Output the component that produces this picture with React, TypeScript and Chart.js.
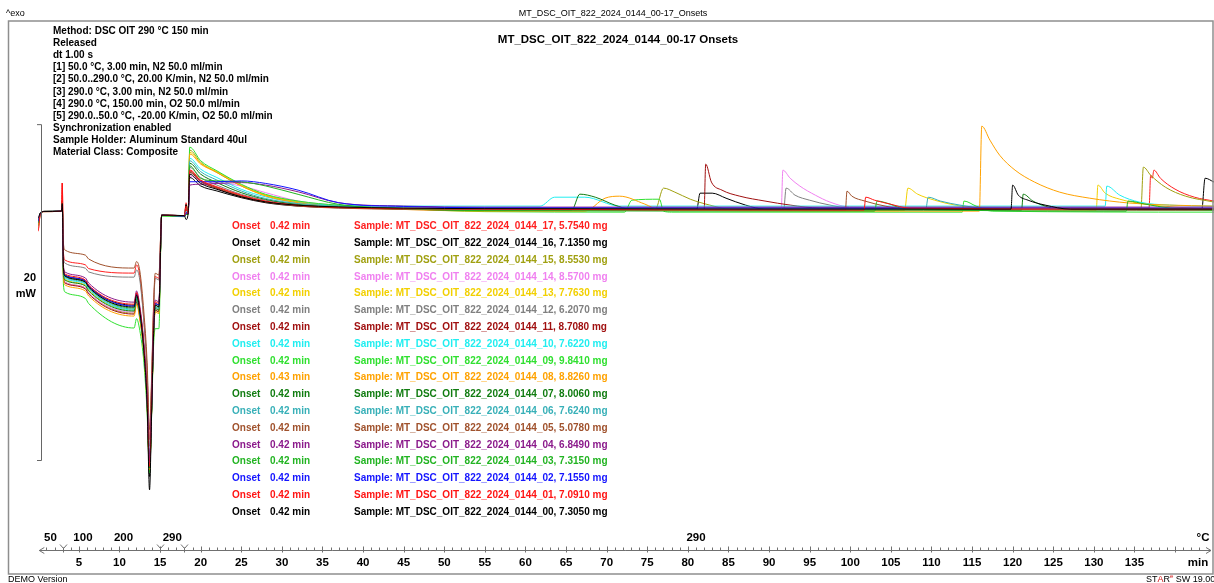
import React, { useEffect, useRef } from "react";
import { Chart, registerables } from "chart.js";

Chart.register(...registerables);

// ---------- DATA ----------
// common time grid (min) for the N2 part and the start of the O2 isotherm
const TIME_PRE = [0, 0.25, 0.7, 2.85, 2.95, 3.1, 3.3, 5.8, 6.2, 11.8, 12.1, 12.5, 13.0, 13.4, 13.7, 13.95, 14.2, 14.4, 14.85, 15.2, 18.0, 18.2, 18.45, 18.65, 20, 22, 25, 28, 32, 37, 45, 55];

// heat flow (mW) on TIME_PRE, per sample
const S00_PRE = [-0.4, -0.12, -0.02, 0.0, 0.45, -3.45, -3.87, -4.22, -4.52, -5.71, -5.0, -5.95, -8.3, -11.5, -16.6, -12.2, -7.3, -5.6, -5.7, -0.24, -0.27, -0.5, -0.15, 2.2, 1.65, 1.3, 0.85, 0.55, 0.35, 0.25, 0.18, 0.15];
const S01_PRE = [-1.15, -0.2, -0.03, 0.0, 1.67, -3.35, -3.75, -4.1, -4.4, -5.54, -4.85, -5.8, -8.0, -11.0, -15.2, -11.6, -7.0, -5.4, -5.5, -0.24, -0.27, 0.3, -0.15, 2.45, 1.85, 1.45, 0.95, 0.6, 0.35, 0.22, 0.15, 0.12];
const S02_PRE = [-0.6, -0.15, -0.02, 0.0, 0.36, -3.4, -3.81, -4.15, -4.45, -5.65, -4.95, -5.9, -8.1, -11.2, -15.0, -11.8, -7.1, -5.5, -5.6, -0.24, -0.3, -0.1, -0.15, 1.75, 1.75, 1.75, 1.8, 1.65, 1.25, 0.5, 0.28, 0.2];
const S03_PRE = [-0.7, -0.15, -0.02, 0.0, 0.5, -3.45, -3.87, -4.22, -4.52, -5.77, -5.1, -6.0, -8.2, -11.3, -15.3, -11.9, -7.2, -5.6, -5.7, -0.24, -0.3, -0.2, -0.18, 2.7, 1.95, 1.8, 1.75, 1.5, 1.0, 0.4, 0.15, 0.03];
const S04_PRE = [-0.6, -0.15, -0.02, 0.0, 0.4, -3.25, -3.63, -3.98, -4.28, -5.42, -4.75, -5.65, -7.8, -10.8, -14.8, -11.4, -6.8, -5.3, -5.4, -0.24, -0.27, -0.1, -0.15, 1.55, 1.6, 1.65, 1.7, 1.55, 1.15, 0.5, 0.3, 0.24];
const S05_PRE = [-0.5, -0.12, -0.02, 0.0, 0.55, -1.95, -2.32, -2.62, -2.85, -3.39, -3.0, -3.55, -6.0, -9.0, -13.0, -10.0, -5.5, -3.7, -3.8, -0.24, -0.27, -0.2, -0.15, 2.35, 1.8, 1.4, 0.9, 0.55, 0.3, 0.18, 0.1, 0.06];
const S06_PRE = [-0.7, -0.15, -0.02, 0.0, 0.45, -3.5, -3.93, -4.28, -4.58, -5.83, -5.15, -6.05, -8.2, -11.2, -15.1, -11.8, -7.2, -5.7, -5.8, -0.24, -0.3, -0.1, -0.15, 3.0, 2.35, 1.85, 1.2, 0.75, 0.45, 0.3, 0.2, 0.12];
const S07_PRE = [-0.7, -0.15, -0.02, 0.0, 0.45, -3.7, -4.11, -4.45, -4.75, -5.95, -5.25, -6.15, -8.3, -11.3, -15.3, -11.9, -7.3, -5.8, -5.9, -0.24, -0.3, -0.2, -0.15, 2.85, 2.2, 1.7, 1.1, 0.7, 0.4, 0.25, 0.12, 0.06];
const S08_PRE = [-0.8, -0.15, -0.02, 0.0, 0.4, -4.0, -4.4, -4.75, -5.05, -6.25, -5.55, -6.45, -8.5, -11.5, -15.4, -12.0, -7.5, -6.0, -6.1, -0.24, -0.3, -0.1, -0.18, 3.4, 2.8, 2.3, 1.5, 0.9, 0.5, 0.25, 0.1, 0.0];
const S09_PRE = [-0.9, -0.2, -0.03, 0.0, 0.4, -4.4, -4.82, -5.2, -5.5, -6.96, -6.4, -7.1, -9.0, -12.0, -15.6, -12.2, -8.0, -7.0, -7.0, -0.3, -0.33, -0.2, -0.2, 3.81, 3.0, 2.4, 1.6, 1.0, 0.6, 0.35, 0.15, -0.03];
const S10_PRE = [-0.7, -0.15, -0.02, 0.0, 0.45, -3.55, -3.99, -4.33, -4.63, -5.89, -5.2, -6.1, -8.2, -11.2, -15.0, -11.7, -7.2, -5.7, -5.8, -0.24, -0.3, 0.0, -0.15, 3.15, 2.5, 2.0, 1.3, 0.85, 0.5, 0.35, 0.3, 0.3];
const S11_PRE = [-0.8, -0.15, -0.02, 0.0, 0.6, -3.9, -4.29, -4.63, -4.93, -6.13, -5.4, -6.35, -8.4, -11.4, -15.3, -12.0, -7.4, -5.9, -6.0, -0.24, -0.3, 0.1, -0.15, 2.3, 1.75, 1.35, 0.85, 0.55, 0.35, 0.22, 0.15, 0.12];
const S12_PRE = [-0.6, -0.15, -0.02, 0.0, 0.4, -2.7, -3.1, -3.4, -3.62, -3.93, -3.5, -4.1, -6.6, -9.6, -14.0, -10.5, -6.0, -4.0, -4.1, -0.24, -0.27, -0.1, -0.15, 2.6, 2.0, 1.55, 1.0, 0.65, 0.4, 0.25, 0.15, 0.12];
const S13_PRE = [-0.7, -0.15, -0.02, 0.0, 0.45, -3.6, -4.05, -4.4, -4.7, -5.89, -5.2, -6.1, -8.2, -11.2, -15.1, -11.8, -7.2, -5.7, -5.8, -0.24, -0.3, -0.1, -0.15, 3.5, 2.85, 2.35, 1.55, 0.95, 0.55, 0.3, 0.15, 0.06];
const S14_PRE = [-0.8, -0.15, -0.02, 0.0, 0.45, -3.8, -4.23, -4.57, -4.87, -6.01, -5.3, -6.2, -8.3, -11.3, -15.2, -11.9, -7.3, -5.8, -5.9, -0.24, -0.3, -0.1, -0.15, 2.1, 1.8, 1.7, 1.5, 1.1, 0.6, 0.35, 0.2, 0.12];
const S15_PRE = [-0.8, -0.15, -0.02, 0.0, 0.45, -3.8, -4.23, -4.57, -4.87, -6.07, -5.35, -6.25, -8.3, -11.3, -15.2, -11.9, -7.4, -5.9, -6.0, -0.24, -0.3, -0.1, -0.15, 3.63, 2.9, 2.3, 1.5, 0.95, 0.55, 0.3, 0.2, 0.12];
const S16_PRE = [-0.45, -0.12, -0.02, 0.0, 0.5, -3.4, -3.81, -4.15, -4.45, -5.6, -4.9, -5.85, -8.1, -11.2, -15.8, -12.0, -7.1, -5.5, -5.6, -0.24, -0.27, 0.4, -0.15, 2.0, 1.5, 1.2, 0.8, 0.5, 0.3, 0.2, 0.15, 0.12];
const S17_PRE = [-1.2, -0.2, -0.03, 0.0, 1.67, -2.5, -2.92, -3.2, -3.42, -3.69, -3.2, -3.85, -6.5, -9.5, -13.6, -10.3, -5.8, -3.9, -4.0, -0.24, -0.27, 0.5, -0.15, 2.4, 1.8, 1.4, 0.9, 0.55, 0.35, 0.25, 0.2, 0.18];

// oxidation part: [time min, heat flow mW]
const S00_OX = [[119.8, 0.12], [120.0, 1.55], [120.7, 0.95], [121.9, 0.65], [124.0, 0.36], [127.1, 0.12], [144.8, 0.12]];
const S01_OX = [[101.7, 0.06], [101.9, 0.83], [103.0, 0.65], [104.9, 0.42], [107.3, 0.18], [144.8, 0.12]];
const S02_OX = [[144.8, 0.18]];
const S03_OX = [[103.0, 0.0], [103.3, 0.6], [104.9, 0.42], [106.7, 0.12], [134.0, 0.0], [134.2, 0.6], [136.3, 0.42], [139.4, 0.18], [144.8, 0.06]];
const S04_OX = [[144.8, 0.24]];
const S05_OX = [[99.4, 0.06], [99.6, 1.19], [100.2, 0.89], [101.8, 0.6], [104.3, 0.3], [106.7, 0.12], [144.8, 0.06]];
const S06_OX = [[109.3, 0.12], [109.6, 0.83], [111.1, 0.6], [113.5, 0.36], [116.6, 0.18], [144.8, 0.12]];
const S07_OX = [[65.7, 0.06], [66.7, 1.01], [68.6, 0.83], [71.0, 0.36], [72.9, 0.12], [121.1, 0.06], [121.3, 1.01], [122.5, 0.6], [124.0, 0.3], [125.8, 0.12], [144.8, 0.06]];
const S08_OX = [[67.3, 0.0], [69.8, 0.77], [71.6, 0.89], [74.7, 0.42], [76.6, 0.06], [115.9, 0.0], [116.2, 5.06], [117.2, 4.23], [118.4, 3.33], [120.3, 2.44], [122.7, 1.73], [125.8, 1.13], [129.5, 0.77], [134.4, 0.48], [139.3, 0.36], [144.8, 0.3]];
const S09_OX = [[72.2, -0.06], [73.1, 0.65], [76.5, 0.71], [77.0, 0.0], [78.0, -0.06], [113.8, -0.06], [114.0, 0.6], [115.5, 0.3], [117.5, 0.0], [144.8, -0.06]];
const S10_OX = [[61.8, 0.3], [63.6, 0.83], [67.3, 0.83], [71.6, 0.3], [131.4, 0.3], [131.6, 1.49], [133.2, 0.95], [135.6, 0.54], [139.3, 0.36], [144.8, 0.3]];
const S11_OX = [[82.0, 0.06], [82.2, 2.8], [82.9, 1.73], [84.2, 1.25], [86.4, 0.89], [89.5, 0.6], [92.6, 0.36], [96.3, 0.18], [144.8, 0.12]];
const S12_OX = [[91.8, 0.06], [92.1, 1.37], [93.2, 0.95], [95.0, 0.65], [97.5, 0.36], [100.0, 0.18], [144.8, 0.12]];
const S13_OX = [[106.7, 0.06], [107.1, 1.37], [108.3, 1.01], [110.4, 0.65], [112.9, 0.36], [116.0, 0.18], [130.3, 0.06], [130.5, 1.55], [131.4, 1.07], [133.2, 0.71], [136.3, 0.42], [140.0, 0.24], [144.8, 0.12]];
const S14_OX = [[91.5, 0.06], [91.7, 2.44], [92.6, 1.96], [93.8, 1.49], [95.7, 0.95], [97.5, 0.54], [100.0, 0.24], [144.8, 0.12]];
const S15_OX = [[76.0, 0.12], [77.0, 1.37], [78.4, 1.13], [80.3, 0.71], [82.7, 0.36], [85.2, 0.12], [135.8, 0.12], [136.1, 2.62], [137.0, 2.14], [138.8, 1.43], [141.3, 0.89], [144.8, 0.54]];
const S16_OX = [[81.1, 0.12], [81.5, 1.07], [83.0, 1.07], [84.7, 0.77], [87.1, 0.36], [89.5, 0.12], [143.3, 0.12], [143.7, 1.96], [144.8, 1.73]];
const S17_OX = [[136.8, 0.18], [137.0, 2.14], [137.2, 1.96], [137.4, 2.44], [138.2, 1.96], [140.0, 1.31], [142.4, 0.83], [144.8, 0.6]];

const SAMPLE_IDS = ["00", "01", "02", "03", "04", "05", "06", "07", "08", "09", "10", "11", "12", "13", "14", "15", "16", "17"];
const SAMPLE_MASS = ["7.3050", "7.0910", "7.1550", "7.3150", "6.8490", "5.0780", "7.6240", "8.0060", "8.8260", "9.8410", "7.6220", "8.7080", "6.2070", "7.7630", "8.5700", "8.5530", "7.1350", "5.7540"];
const ONSET_MIN = ["0.42", "0.42", "0.42", "0.42", "0.42", "0.42", "0.42", "0.42", "0.43", "0.42", "0.42", "0.42", "0.42", "0.42", "0.42", "0.42", "0.42", "0.42"];
const SERIES_COLORS = ["#000000", "#ff1414", "#1414ff", "#22b422", "#8b1a8b", "#a0522d", "#38b0b8", "#107c10", "#ffa200", "#30e030", "#20eef0", "#a01010", "#808080", "#f2d000", "#f080f0", "#a0a010", "#000000", "#ff2020"];

const PRE = [S00_PRE, S01_PRE, S02_PRE, S03_PRE, S04_PRE, S05_PRE, S06_PRE, S07_PRE, S08_PRE, S09_PRE, S10_PRE, S11_PRE, S12_PRE, S13_PRE, S14_PRE, S15_PRE, S16_PRE, S17_PRE];
const OX = [S00_OX, S01_OX, S02_OX, S03_OX, S04_OX, S05_OX, S06_OX, S07_OX, S08_OX, S09_OX, S10_OX, S11_OX, S12_OX, S13_OX, S14_OX, S15_OX, S16_OX, S17_OX];

const METHOD_LINES = [
  "Method: DSC OIT 290 °C 150 min",
  "Released",
  "dt 1.00 s",
  "[1] 50.0 °C, 3.00 min, N2 50.0 ml/min",
  "[2] 50.0..290.0 °C, 20.00 K/min, N2 50.0 ml/min",
  "[3] 290.0 °C, 3.00 min, N2 50.0 ml/min",
  "[4] 290.0 °C, 150.00 min, O2 50.0 ml/min",
  "[5] 290.0..50.0 °C, -20.00 K/min, O2 50.0 ml/min",
  "Synchronization enabled",
  "Sample Holder: Aluminum Standard 40ul",
  "Material Class: Composite",
];

const TIME_LABELS = [5, 10, 15, 20, 25, 30, 35, 40, 45, 50, 55, 60, 65, 70, 75, 80, 85, 90, 95, 100, 105, 110, 115, 120, 125, 130, 135];
const TEMP_LABEL_TIMES = [1.5, 5.5, 10.5, 16.5, 81];
const TEMP_LABELS = ["50", "100", "200", "290", "290"];
const SEGMENT_TIMES = [3, 15, 18];
const SCALE_BAR_FROM = -14.82;
const SCALE_BAR_MW = 20;

const FONT = '"Liberation Sans", Arial, Helvetica, sans-serif';

const decorPlugin = {
  id: "decor",
  afterDraw(chart: any) {
    const ctx = chart.ctx as CanvasRenderingContext2D;
    const xs = chart.scales.x;
    const ys = chart.scales.y;
    const px = (t: number) => xs.getPixelForValue(t);
    const py = (v: number) => ys.getPixelForValue(v);
    ctx.save();

    // frame
    ctx.strokeStyle = "#8e8e8e";
    ctx.lineWidth = 1.5;
    ctx.strokeRect(8.5, 21, 1204.5, 553);

    ctx.textBaseline = "middle";
    ctx.fillStyle = "#000";
    // header
    ctx.font = `9px ${FONT}`;
    ctx.textAlign = "left";
    ctx.fillText("^exo", 6, 14);
    ctx.textAlign = "center";
    ctx.fillText("MT_DSC_OIT_822_2024_0144_00-17_Onsets", 613, 14);

    // title
    ctx.font = `bold 11.5px ${FONT}`;
    ctx.fillText("MT_DSC_OIT_822_2024_0144_00-17 Onsets", 618, 40);

    // method block
    ctx.font = `bold 10px ${FONT}`;
    ctx.textAlign = "left";
    METHOD_LINES.forEach((line, i) => ctx.fillText(line, 53, 31 + i * 12.15));

    // scale bar
    const yTop = py(SCALE_BAR_FROM + SCALE_BAR_MW);
    const yBot = py(SCALE_BAR_FROM);
    ctx.strokeStyle = "#666";
    ctx.lineWidth = 1;
    ctx.beginPath();
    ctx.moveTo(37, yTop + 0.5);
    ctx.lineTo(41.5, yTop + 0.5);
    ctx.lineTo(41.5, yBot + 0.5);
    ctx.lineTo(37, yBot + 0.5);
    ctx.stroke();
    ctx.font = `bold 11px ${FONT}`;
    ctx.textAlign = "right";
    ctx.fillText("20", 36, 278);
    ctx.fillText("mW", 36, 294);

    // x axis
    const ay = 550.5;
    const x0 = px(0);
    ctx.strokeStyle = "#707070";
    ctx.beginPath();
    ctx.moveTo(x0 + 1, ay);
    ctx.lineTo(1211, ay);
    ctx.moveTo(x0 + 6, ay - 3);
    ctx.lineTo(x0 + 1, ay);
    ctx.lineTo(x0 + 6, ay + 3);
    ctx.moveTo(1206, ay - 3);
    ctx.lineTo(1211, ay);
    ctx.lineTo(1206, ay + 3);
    for (let m = 1; m < 145; m++) {
      const x = Math.round(px(m)) + 0.5;
      if (x > 1204) break;
      if (m % 5 === 0) {
        ctx.moveTo(x, ay - 4);
        ctx.lineTo(x, ay + 2);
      } else {
        ctx.moveTo(x, ay - 3);
        ctx.lineTo(x, ay);
      }
    }
    SEGMENT_TIMES.forEach((t) => {
      const x = Math.round(px(t)) + 0.5;
      ctx.moveTo(x - 3.5, ay - 6);
      ctx.lineTo(x, ay - 2);
      ctx.lineTo(x + 3.5, ay - 6);
      ctx.moveTo(x, ay - 2);
      ctx.lineTo(x, ay + 2);
    });
    ctx.stroke();

    ctx.fillStyle = "#000";
    ctx.font = `bold 11.5px ${FONT}`;
    ctx.textAlign = "center";
    TIME_LABELS.forEach((t) => ctx.fillText(String(t), px(t), 563));
    ctx.fillText("min", 1198, 563);
    TEMP_LABELS.forEach((lab, i) => ctx.fillText(lab, px(TEMP_LABEL_TIMES[i]), 538));
    ctx.fillText("°C", 1203, 538);

    // legend (17 .. 00)
    ctx.font = `bold 10px ${FONT}`;
    ctx.textAlign = "left";
    for (let r = 0; r < 18; r++) {
      const i = 17 - r;
      const y = 226.5 + r * 16.8;
      ctx.fillStyle = SERIES_COLORS[i];
      ctx.fillText("Onset", 232, y);
      ctx.fillText(`${ONSET_MIN[i]} min`, 270, y);
      ctx.fillText(`Sample: MT_DSC_OIT_822_2024_0144_${SAMPLE_IDS[i]}, ${SAMPLE_MASS[i]} mg`, 354, y);
    }

    // footer
    ctx.font = `9px ${FONT}`;
    ctx.fillStyle = "#000";
    ctx.fillText("DEMO Version", 8, 580);
    let fx = 1146;
    const parts: [string, string][] = [["ST", "#000"], ["A", "#d01010"], ["R", "#000"]];
    parts.forEach(([s, c]) => {
      ctx.fillStyle = c;
      ctx.fillText(s, fx, 580);
      fx += ctx.measureText(s).width;
    });
    ctx.font = `6px ${FONT}`;
    ctx.fillStyle = "#d01010";
    ctx.fillText("e", fx, 576);
    fx += ctx.measureText("e").width;
    ctx.font = `9px ${FONT}`;
    ctx.fillStyle = "#000";
    ctx.fillText(" SW 19.00", fx, 580);

    ctx.restore();
  },
};

export default function App() {
  const ref = useRef<HTMLCanvasElement | null>(null);
  useEffect(() => {
    if (!ref.current) return;
    const datasets = PRE.map((pre, i) => {
      const pts = TIME_PRE.map((t, k) => ({ x: t, y: pre[k] }));
      OX[i].forEach(([t, v]) => pts.push({ x: t, y: v }));
      return {
        label: `MT_DSC_OIT_822_2024_0144_${SAMPLE_IDS[i]}`,
        data: pts,
        borderColor: SERIES_COLORS[i],
        backgroundColor: SERIES_COLORS[i],
        borderWidth: 1,
        pointRadius: 0,
        fill: false,
        cubicInterpolationMode: "monotone" as const,
      };
    });
    const chart = new Chart(ref.current, {
      type: "line",
      data: { datasets },
      options: {
        animation: false,
        responsive: false,
        devicePixelRatio: 1,
        layout: { padding: { left: 38.3, right: 0, top: 21.2, bottom: 36 } },
        scales: {
          x: { type: "linear", min: 0, max: 144.8, display: false },
          y: { type: "linear", min: -20, max: 11.31, display: false },
        },
        plugins: { legend: { display: false }, tooltip: { enabled: false }, title: { display: false } },
        events: [],
      },
      plugins: [decorPlugin],
    });
    return () => chart.destroy();
  }, []);
  return (
    <div style={{ position: "fixed", left: 0, top: 0, width: 1214, height: 583, background: "#fff" }}>
      <canvas ref={ref} width={1214} height={583} style={{ display: "block" }} />
    </div>
  );
}
